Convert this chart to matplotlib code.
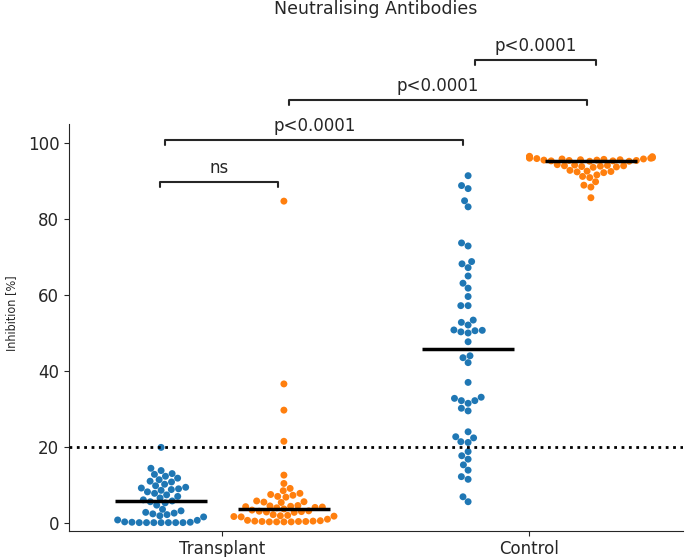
import numpy as np
import pandas as pd
import matplotlib
matplotlib.use("Agg")
import matplotlib.pyplot as plt
from matplotlib.collections import PathCollection
import seaborn as sns

categories = ["Transplant", "Control"]
hue_levels = ["Group 1", "Group 2"]
colors = ["#1f77b4", "#ff7f0e"]

transplant_blue = [19.9, 14.4, 13.8, 13.0, 12.8, 12.3, 11.8, 11.4, 11.0, 10.8, 10.2, 9.8,
                   9.4, 9.2, 9.0, 8.8, 8.6, 8.2, 7.8, 7.4, 7.0, 6.6, 6.1, 5.8,
                   5.6, 5.3, 4.7, 3.6, 3.2, 2.8, 2.6, 2.4, 2.2, 1.9, 1.6, 0.8,
                   0.7, 0.3, 0.2, 0.2, 0.1, 0.1, 0.1, 0.1, 0.1, 0.1, 0.1]
transplant_orange = [84.7, 36.6, 29.7, 21.5, 12.6, 10.4, 9.1, 8.5, 7.8, 7.5, 7.3, 7.0,
                     6.8, 5.8, 5.6, 5.5, 5.4, 4.6, 4.5, 4.4, 4.3, 4.2, 4.1, 4.0, 3.7,
                     3.4, 3.2, 3.1, 3.0, 2.9, 2.8, 2.2, 2.0, 1.9, 1.8, 1.7, 1.6,
                     1.0, 0.7, 0.6, 0.5, 0.5, 0.4, 0.4, 0.3, 0.3, 0.3, 0.3, 0.4]
control_blue = [91.4, 88.8, 88.0, 84.8, 83.2, 73.7, 72.9, 68.8, 68.2, 67.2, 65.0, 63.1,
                61.8, 59.6, 57.2, 57.2, 53.4, 52.8, 52.1, 50.8, 50.3, 50.0, 50.6, 50.7,
                47.7, 43.5, 44.0, 42.2, 37.0, 32.2, 33.1, 32.2, 32.8, 31.5, 30.2, 29.5,
                24.0, 22.7, 22.4, 21.4, 21.2, 18.8, 17.7, 16.8, 15.3, 13.9, 12.2, 11.5,
                6.9, 5.6]
control_orange = [96.5, 96.4, 96.3, 96.2, 96.2, 96.1, 96.0, 96.0, 95.9, 95.8, 95.8, 95.7,
                  95.6, 95.6, 95.5, 95.5, 95.4, 95.4, 95.3, 95.3, 95.2, 95.2,
                  94.3, 94.2, 94.1, 94.0, 94.0, 93.9, 93.8, 93.7, 93.6,
                  92.8, 92.6, 92.5, 92.4, 92.2, 91.6, 91.2, 90.9, 89.8, 88.9, 88.4, 85.6]

threshold = 20
yticks = [0, 20, 40, 60, 80, 100]
comparison_labels = ["ns", "p<0.0001", "p<0.0001", "p<0.0001"]

series = {
    ("Transplant", "Group 1"): transplant_blue,
    ("Transplant", "Group 2"): transplant_orange,
    ("Control", "Group 1"): control_blue,
    ("Control", "Group 2"): control_orange,
}
rows = []
for (cat, hue), vals in series.items():
    for v in vals:
        rows.append({"group": cat, "hue": hue, "value": v})
df = pd.DataFrame(rows)

sns.set_style("ticks")
plt.rcParams["font.family"] = ["DejaVu Sans"]

W, H = 685, 557
fig = plt.figure(figsize=(W / 100, H / 100), dpi=100)
ax = fig.add_axes([69 / W, 26.4 / H, 614 / W, 406.6 / H])

sns.swarmplot(data=df, x="group", y="value", hue="hue", order=categories,
              hue_order=hue_levels, dodge=True, palette=colors, size=5, ax=ax)
if ax.get_legend() is not None:
    ax.get_legend().remove()

ax.set_xlim(-0.5, 1.5)
ax.set_ylim(-2, 105)
ax.set_yticks(yticks)

# let seaborn lay out the swarms, then keep each swarm inside its dodge slot
# (gutter of +-0.2 around the hue position, as in the reference)
fig.canvas.draw()
centers = np.array([i + d for i in range(len(categories)) for d in (-0.2, 0.2)])
for coll in ax.collections:
    if isinstance(coll, PathCollection):
        offs = np.asarray(coll.get_offsets(), dtype=float)
        if len(offs) == 0:
            continue
        c = centers[np.argmin(np.abs(centers - np.median(offs[:, 0])))]
        offs[:, 0] = np.clip(offs[:, 0], c - 0.2, c + 0.2)
        if "draw" in coll.__dict__:
            del coll.__dict__["draw"]
        coll.set_offsets(offs)

# medians
for i, cat in enumerate(categories):
    for j, hue in enumerate(hue_levels):
        xc = i + (-0.2 if j == 0 else 0.2)
        med = np.median(series[(cat, hue)])
        ax.plot([xc - 0.15, xc + 0.15], [med, med], color="black", lw=2.5,
                solid_capstyle="butt", zorder=6)

ax.axhline(threshold, color="black", ls=":", lw=2, zorder=5)

# brackets
bracket_x = [(-0.202, 0.182), (-0.186, 0.785), (0.215, 1.186), (0.824, 1.215)]
levels_y = [89.7, 100.8, 111.3, 121.8]
for (x1, x2), yb, lab in zip(bracket_x, levels_y, comparison_labels):
    ax.plot([x1, x1, x2, x2], [yb - 1.4, yb, yb, yb - 1.4], color=".15", lw=1.5,
            clip_on=False, zorder=7)
    ax.text((x1 + x2) / 2, yb + 1.3, lab, ha="center", va="bottom", fontsize=12,
            color=".15", clip_on=False)

ax.set_xlabel("")
ax.set_ylabel("Inhibition [%]", fontsize=9, fontstretch="condensed")
ax.yaxis.set_label_coords(-0.083, 0.535)
ax.tick_params(labelsize=12)
sns.despine(ax=ax)

fig.text(376 / W, 1 - 9 / H, "Neutralising Antibodies", ha="center", va="center",
         fontsize=12.5, color=".15")

fig.savefig("out.png", dpi=100)
